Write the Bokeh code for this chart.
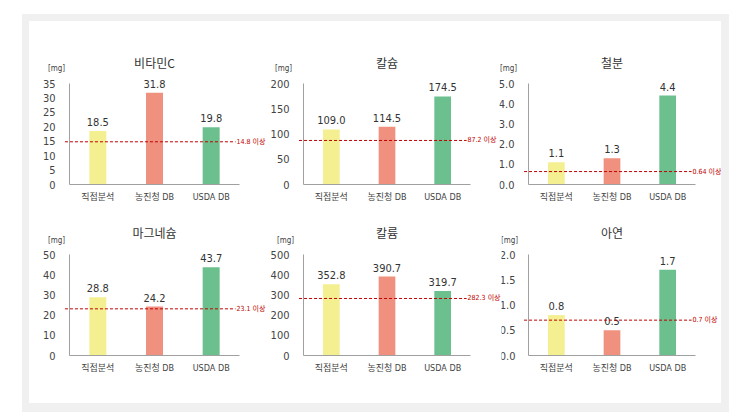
from bokeh.plotting import figure
from bokeh.models import Range1d, FixedTicker, NumeralTickFormatter, LinearAxis, Column, Row
from bokeh.core.properties import value
from bokeh.embed import file_html
from bokeh.resources import INLINE

categories = ["직접분석", "농진청 DB", "USDA DB"]
titles = ["비타민C", "칼슘", "철분", "마그네슘", "칼륨", "아연"]

vitamin_c = [18.5, 31.8, 19.8]
calcium = [109.0, 114.5, 174.5]
iron = [1.1, 1.3, 4.4]
magnesium = [28.8, 24.2, 43.7]
potassium = [352.8, 390.7, 319.7]
zinc = [0.8, 0.5, 1.7]

thresholds = [14.8, 87.2, 0.64, 23.1, 282.3, 0.7]
threshold_labels = ["14.8 이상", "87.2 이상", "0.64 이상", "23.1 이상", "282.3 이상", "0.7 이상"]

y_max = [35, 200, 5, 50, 500, 2]
y_ticks = [
    [0, 5, 10, 15, 20, 25, 30, 35],
    [0, 50, 100, 150, 200],
    [0, 1, 2, 3, 4, 5],
    [0, 10, 20, 30, 40, 50],
    [0, 100, 200, 300, 400, 500],
    [0, 0.5, 1.0, 1.5, 2.0],
]
tick_formats = ["0", "0", "0.0", "0", "0", "0.0"]
series = [vitamin_c, calcium, iron, magnesium, potassium, zinc]

bar_colors = ["#f4ef90", "#f0907f", "#6cc08e"]
RED = "#c00000"
FONT = "'Liberation Sans Narrow', 'DejaVu Sans Condensed', 'Noto Sans CJK KR', sans-serif"
KFONT = "'Noto Sans CJK KR', sans-serif"

# layout geometry (pixels): per chart (left margin, frame width, right margin)
col_geom = [
    (40, 170, 29), (35, 167, 29), (29, 167, 26),
    (40, 170, 29), (35, 167, 31), (27, 167, 26),
]
row_geom = [(62, 101, 40), (30, 101, 48)]
title_gap = [21, 22]
unit_gap = [15, 14]
unit_dx = [-13, -20, -20, -13, -18, -19]
y_standoff = [8, 8, 8, 8, 8, 7]

xpos = [i + 1 for i in range(len(categories))]


def make(i):
    r = i // 3
    bl, fw, br = col_geom[i]
    bt, fh, bb = row_geom[r]
    ux = 3.0 / fw
    uy = y_max[i] / fh
    p = figure(
        x_range=Range1d(0.5 - bl * ux, 3.5 + br * ux),
        y_range=Range1d(-bb * uy, y_max[i] + bt * uy),
        width=bl + fw + br, height=bt + fh + bb, min_border=0,
        x_axis_location=None, y_axis_location=None, title=None,
        output_backend="svg", toolbar_location=None,
        outline_line_color=None, background_fill_color="white", border_fill_color="white",
    )
    p.xgrid.visible = False
    p.ygrid.visible = False

    p.vbar(x=xpos, top=series[i], width=0.3, color=bar_colors, line_color=None)
    p.text(x=xpos, y=series[i], text=["%.1f" % v for v in series[i]],
           text_align="center", text_baseline="bottom", y_offset=-5,
           text_font=value(FONT), text_font_size="11px", text_color="#333333")

    thr = thresholds[i]
    p.segment(x0=[0.5 - 0.08], y0=[thr], x1=[3.5 - 0.07], y1=[thr], line_color=RED,
              line_dash="3 2", line_width=1)
    p.text(x=[3.5 - 0.07], y=[thr], text=[threshold_labels[i]], x_offset=1,
           text_baseline="middle", text_align="left", text_font=value(FONT),
           text_font_size="7px", text_color=RED)
    p.text(x=[2.0], y=[y_max[i]], text=[titles[i]], y_offset=-title_gap[r],
           text_align="center", text_baseline="middle", text_font=value(KFONT),
           text_font_size="12px", text_color="#333333")
    p.text(x=[0.5], y=[y_max[i]], text=["[mg]"], x_offset=unit_dx[i], y_offset=-unit_gap[r],
           text_align="center", text_baseline="middle", text_font=value(FONT),
           text_font_size="8px", text_color="#444444")

    yax = LinearAxis(fixed_location=0.5, bounds=(0, y_max[i]),
                     ticker=FixedTicker(ticks=y_ticks[i]),
                     formatter=NumeralTickFormatter(format=tick_formats[i]))
    xax = LinearAxis(fixed_location=0, bounds=(0.5, 3.5),
                     ticker=FixedTicker(ticks=xpos),
                     major_label_overrides={x: c for x, c in zip(xpos, categories)})
    for ax in (xax, yax):
        ax.major_tick_line_color = None
        ax.minor_tick_line_color = None
        ax.axis_line_color = "#a0a0a0"
        ax.major_label_text_font = FONT
        ax.major_label_text_color = "#444444"
    yax.major_label_text_font_size = "11px"
    yax.major_label_standoff = y_standoff[i]
    xax.major_label_text_font_size = "9px"
    xax.major_label_standoff = 1
    p.add_layout(yax, "left")
    p.add_layout(xax, "below")
    return p


figs = [make(i) for i in range(6)]
layout = Column(
    children=[Row(children=figs[:3], spacing=0), Row(children=figs[3:], spacing=0)],
    spacing=0,
    styles={"background-color": "white", "border-style": "solid",
            "border-color": "#f0f0f0", "border-width": "7px 8px 9px 7px",
            "margin-left": "22px", "margin-top": "14px"},
)

open("out.html", "w").write(file_html(layout, INLINE))
